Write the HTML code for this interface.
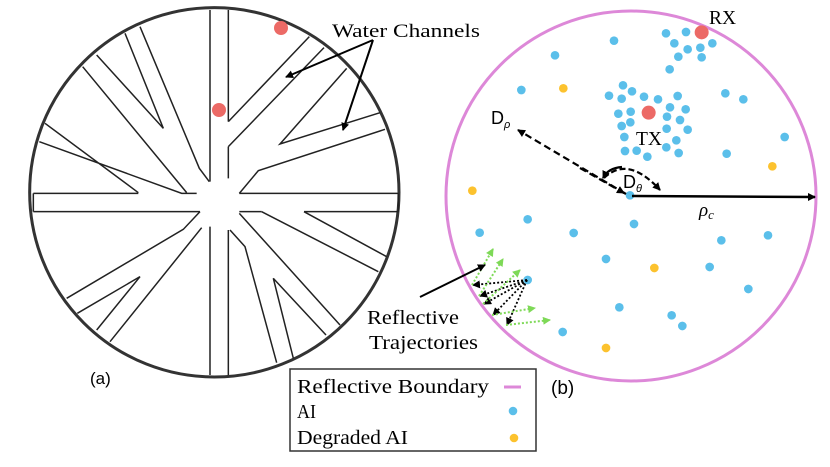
<!DOCTYPE html>
<html><head><meta charset="utf-8"><style>
html,body{margin:0;padding:0;background:#fff;}
svg{display:block;}
text{font-family:"Liberation Serif",serif;}
</style></head><body>
<svg width="830" height="467" viewBox="0 0 830 467" xmlns="http://www.w3.org/2000/svg">
<defs>
<marker id="ah" markerWidth="8" markerHeight="8" refX="7" refY="4" orient="auto" markerUnits="userSpaceOnUse"><path d="M0,0 L8,4 L0,8 Z" fill="#000"/></marker>
<marker id="gh" markerWidth="8" markerHeight="8" refX="7" refY="4" orient="auto" markerUnits="userSpaceOnUse"><path d="M0,0 L8,4 L0,8 Z" fill="#7ed957"/></marker>
</defs>
<!-- LEFT (a) -->
<g transform="scale(0.33333)" fill="none" stroke="#222" stroke-width="4.5">
<circle cx="643" cy="577" r="554" stroke-width="9" stroke="#333"/>
<path d="M630,30 V545 M685,30 V365 M685,440 V535 M630,680 V1125 M685,690 V1125"/>
<path d="M100,580 H415 M100,635 H600 M100,580 V635 M718,580 H1195 M718,635 H785 M912,635 H1195 M1195,580 V635"/>
<path d="M420,80 L598,505 L628,545 M375,100 L490,385 L290,165 M248,200 L560,578 M135,370 L415,578 M118,425 L545,580 L590,580"/>
<path d="M928,110 L685,365 M972,143 L685,440 M1040,205 L840,432 L1140,338 M1155,388 L775,512 L718,580"/>
<path d="M785,635 L1135,815 M912,635 L1160,770 M718,640 L1020,975 M690,690 L735,740 L830,1088 M880,1075 L820,835 L978,1005"/>
<path d="M600,635 L550,688 L200,895 M232,940 L420,830 L290,990 M605,683 L330,1025"/>
</g>
<circle cx="281" cy="28" r="7" fill="#ec6a66"/>
<circle cx="219" cy="110" r="7" fill="#ec6a66"/>
<text x="332" y="37" font-size="19" textLength="148" lengthAdjust="spacingAndGlyphs">Water Channels</text>
<line x1="373" y1="40" x2="286" y2="77" stroke="#000" stroke-width="2" marker-end="url(#ah)"/>
<line x1="373" y1="40" x2="343" y2="130" stroke="#000" stroke-width="2" marker-end="url(#ah)"/>
<text x="90" y="384" font-size="17" style="font-family:'Liberation Sans',sans-serif">(a)</text>

<!-- RIGHT (b) -->
<circle cx="631" cy="196" r="185" fill="none" stroke="#dd88d8" stroke-width="3"/>
<g transform="translate(440,0) scale(0.33333)">
<g fill="#5bbfea">
<circle cx="678" cy="100" r="13"/><circle cx="738" cy="96" r="13"/><circle cx="703" cy="130" r="13"/><circle cx="743" cy="148" r="13"/><circle cx="781" cy="143" r="13"/><circle cx="817" cy="130" r="13"/><circle cx="715" cy="170" r="13"/><circle cx="785" cy="172" r="13"/><circle cx="689" cy="208" r="13"/><circle cx="522" cy="122" r="13"/><circle cx="345" cy="166" r="13"/><circle cx="244" cy="270" r="13"/><circle cx="549" cy="256" r="13"/><circle cx="576" cy="274" r="13"/><circle cx="507" cy="287" r="13"/><circle cx="545" cy="296" r="13"/><circle cx="612" cy="290" r="13"/><circle cx="654" cy="298" r="13"/><circle cx="713" cy="288" r="13"/><circle cx="690" cy="322" r="13"/><circle cx="737" cy="328" r="13"/><circle cx="535" cy="341" r="13"/><circle cx="572" cy="335" r="13"/><circle cx="681" cy="350" r="13"/><circle cx="720" cy="360" r="13"/><circle cx="545" cy="378" r="13"/><circle cx="571" cy="367" r="13"/><circle cx="680" cy="386" r="13"/><circle cx="743" cy="389" r="13"/><circle cx="553" cy="411" r="13"/><circle cx="709" cy="421" r="13"/><circle cx="555" cy="453" r="13"/><circle cx="590" cy="452" r="13"/><circle cx="622" cy="470" r="13"/><circle cx="679" cy="442" r="13"/><circle cx="716" cy="459" r="13"/><circle cx="856" cy="280" r="13"/><circle cx="910" cy="298" r="13"/><circle cx="1034" cy="411" r="13"/><circle cx="860" cy="461" r="13"/><circle cx="570" cy="586" r="13"/><circle cx="263" cy="658" r="13"/><circle cx="119" cy="698" r="13"/><circle cx="401" cy="699" r="13"/><circle cx="582" cy="672" r="13"/><circle cx="844" cy="721" r="13"/><circle cx="984" cy="706" r="13"/><circle cx="498" cy="777" r="13"/><circle cx="809" cy="801" r="13"/><circle cx="925" cy="867" r="13"/><circle cx="263" cy="840" r="13"/><circle cx="538" cy="922" r="13"/><circle cx="695" cy="946" r="13"/><circle cx="727" cy="978" r="13"/><circle cx="368" cy="996" r="13"/>
</g>
<g fill="#fcc22e">
<circle cx="370" cy="265" r="13"/><circle cx="97" cy="572" r="13"/><circle cx="997" cy="499" r="13"/><circle cx="643" cy="804" r="13"/><circle cx="498" cy="1044" r="13"/>
</g>
<circle cx="785" cy="97" r="21" fill="#ec6a66"/>
<circle cx="626" cy="338" r="21" fill="#ec6a66"/>
</g>
<text x="709" y="24" font-size="20" textLength="27" lengthAdjust="spacingAndGlyphs">RX</text>
<text x="636" y="145" font-size="20" textLength="26" lengthAdjust="spacingAndGlyphs">TX</text>
<!-- D_rho -->
<line x1="626" y1="194" x2="518" y2="130" stroke="#000" stroke-width="2.2" stroke-dasharray="7,4" marker-end="url(#ah)"/>
<line x1="580" y1="168" x2="624" y2="193" stroke="#000" stroke-width="2.2" stroke-dasharray="7,4" marker-end="url(#ah)"/>
<text x="491" y="124" font-size="18" style="font-family:'Liberation Sans',sans-serif">D<tspan font-size="11" dy="4" font-style="italic">ρ</tspan></text>
<path d="M604,178 Q628,155 660,190" fill="none" stroke="#000" stroke-width="2.2" stroke-dasharray="6,3" marker-end="url(#ah)"/>
<path d="M622,167 Q608,168 603,178" fill="none" stroke="#000" stroke-width="2.2" marker-end="url(#ah)"/>
<text x="623" y="188" font-size="18" style="font-family:'Liberation Sans',sans-serif">D<tspan font-size="11" dy="4" font-style="italic">θ</tspan></text>
<line x1="632" y1="196" x2="815" y2="197" stroke="#000" stroke-width="2.5" marker-end="url(#ah)"/>
<text x="699" y="216" font-size="19" font-style="italic">ρ<tspan font-size="13" dy="3">c</tspan></text>
<!-- trajectories -->
<g stroke="#000" stroke-width="1.8" stroke-dasharray="2,2" fill="none">
<line x1="527" y1="280" x2="473" y2="285" marker-end="url(#ah)"/>
<line x1="527" y1="280" x2="480" y2="296" marker-end="url(#ah)"/>
<line x1="527" y1="280" x2="484" y2="304" marker-end="url(#ah)"/>
<line x1="527" y1="280" x2="493" y2="315" marker-end="url(#ah)"/>
<line x1="527" y1="280" x2="507" y2="325" marker-end="url(#ah)"/>
</g>
<g stroke="#7ed957" stroke-width="2" stroke-dasharray="2,2" fill="none">
<line x1="472" y1="285" x2="493" y2="249" marker-end="url(#gh)"/>
<line x1="479" y1="296" x2="503" y2="259" marker-end="url(#gh)"/>
<line x1="483" y1="304" x2="520" y2="270" marker-end="url(#gh)"/>
<line x1="492" y1="315" x2="535" y2="308" marker-end="url(#gh)"/>
<line x1="506" y1="325" x2="550" y2="320" marker-end="url(#gh)"/>
</g>
<line x1="420" y1="297" x2="485" y2="265" stroke="#000" stroke-width="2" marker-end="url(#ah)"/>
<text x="367" y="324" font-size="20" textLength="92" lengthAdjust="spacingAndGlyphs">Reflective</text>
<text x="369" y="349" font-size="20" textLength="109" lengthAdjust="spacingAndGlyphs">Trajectories</text>
<!-- legend -->
<rect x="290" y="369" width="246" height="82" fill="#fff" stroke="#333" stroke-width="1.5"/>
<text x="297" y="393" font-size="20" textLength="192" lengthAdjust="spacingAndGlyphs">Reflective Boundary</text>
<text x="297" y="418" font-size="20" textLength="19" lengthAdjust="spacingAndGlyphs">AI</text>
<text x="297" y="444" font-size="20" textLength="111" lengthAdjust="spacingAndGlyphs">Degraded AI</text>
<line x1="504" y1="387" x2="521" y2="387" stroke="#dd88d8" stroke-width="3"/>
<circle cx="513" cy="411" r="4.3" fill="#5bbfea"/>
<circle cx="514" cy="438" r="4.3" fill="#fcc22e"/>
<text x="551" y="394" font-size="19" style="font-family:'Liberation Sans',sans-serif">(b)</text>
</svg>
</body></html>
